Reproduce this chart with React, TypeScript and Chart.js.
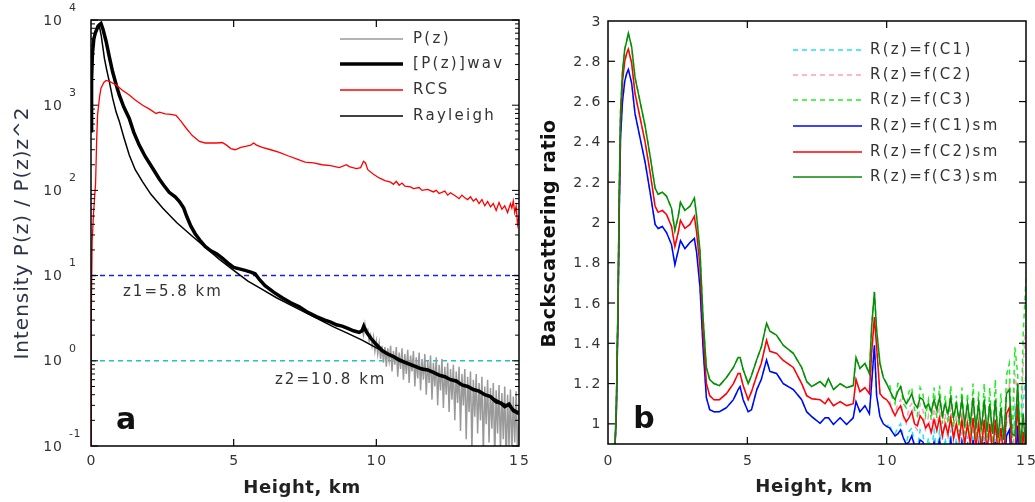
import React, { useEffect, useRef } from "react";
import { Chart, registerables } from "chart.js";
Chart.register(...registerables);

// ---------------- Panel a data (height km, intensity) ----------------
const wavH = [0, 0.02, 0.05, 0.1, 0.15, 0.25, 0.35, 0.42, 0.53, 0.65, 0.76, 0.88, 0.99, 1.15, 1.34, 1.5, 1.69, 1.9, 2.16, 2.4, 2.55, 2.74, 2.95, 3.1, 3.25, 3.35, 3.5, 3.65, 3.82, 4.0, 4.2, 4.4, 4.6, 4.8, 5.0, 5.2, 5.4, 5.6, 5.75, 5.9, 6.1, 6.4, 6.7, 7.0, 7.3, 7.6, 7.9, 8.2, 8.4, 8.6, 8.8, 9.0, 9.2, 9.4, 9.5, 9.56, 9.65, 9.8, 10.0, 10.2, 10.4, 10.6, 10.8, 11.0, 11.2, 11.4, 11.6, 11.8, 12.0, 12.2, 12.4, 12.6, 12.8, 13.0, 13.2, 13.4, 13.6, 13.8, 14.0, 14.2, 14.35, 14.5, 14.65, 14.8, 15.0];
const wavV = [500, 2000, 4000, 6000, 7000, 8500, 9100, 7800, 5600, 3600, 2450, 1750, 1320, 950, 700, 480, 340, 250, 182, 135, 115, 95, 84, 74, 62, 50, 38, 31, 26, 22, 19.5, 18, 16, 14, 12.5, 12, 11.5, 11, 10.5, 9, 7.6, 6.4, 5.5, 4.8, 4.3, 3.7, 3.3, 3.0, 2.85, 2.65, 2.55, 2.4, 2.25, 2.15, 2.25, 2.55, 2.2, 1.85, 1.55, 1.32, 1.2, 1.12, 1.02, 0.96, 0.9, 0.85, 0.8, 0.78, 0.73, 0.68, 0.65, 0.6, 0.58, 0.52, 0.5, 0.46, 0.44, 0.4, 0.38, 0.33, 0.32, 0.29, 0.31, 0.26, 0.24];

const rayH = [0, 0.04, 0.1, 0.18, 0.28, 0.36, 0.47, 0.55, 0.64, 0.76, 0.88, 0.99, 1.15, 1.34, 1.55, 1.81, 2.1, 2.51, 3.0, 3.5, 4.0, 4.5, 5.0, 5.5, 6.0, 6.5, 7.0, 7.5, 8.0, 8.5, 9.0, 9.5, 10.0, 10.5, 11.0, 11.5, 12.0, 12.5, 13.0, 13.5, 14.0, 14.5, 15.0];
const rayV = [500, 3000, 6000, 8000, 8900, 6500, 3550, 2600, 1900, 1200, 830, 650, 420, 260, 175, 126, 90, 62, 42, 30, 21.5, 15.5, 11.5, 8.6, 6.9, 5.5, 4.5, 3.7, 3.05, 2.5, 2.1, 1.75, 1.42, 1.18, 0.98, 0.84, 0.73, 0.62, 0.53, 0.45, 0.38, 0.31, 0.25];

const rcsH = [0, 0.01, 0.04, 0.09, 0.16, 0.2, 0.23, 0.3, 0.35, 0.45, 0.53, 0.65, 0.88, 1.1, 1.34, 1.55, 1.81, 2.05, 2.28, 2.4, 2.6, 2.8, 2.98, 3.15, 3.33, 3.55, 3.8, 4.0, 4.4, 4.6, 4.75, 4.9, 5.05, 5.25, 5.45, 5.6, 5.7, 5.8, 6.0, 6.3, 6.6, 6.9, 7.2, 7.5, 7.8, 8.1, 8.4, 8.7, 8.95, 9.05, 9.3, 9.45, 9.55, 9.62, 9.7, 9.9, 10.1, 10.3, 10.5, 10.6, 10.7, 10.8, 10.9, 11.0, 11.2, 11.3, 11.5, 11.6, 11.8, 12.0, 12.1, 12.2, 12.4, 12.5, 12.6, 12.8, 12.9, 13.0, 13.1, 13.2, 13.3, 13.4, 13.5, 13.6, 13.7, 13.8, 13.9, 14.0, 14.1, 14.2, 14.3, 14.4, 14.5, 14.6, 14.7, 14.75, 14.8, 14.85, 14.9, 14.95, 15.0];
const rcsV = [0.1, 3.5, 25, 55, 120, 400, 770, 1250, 1580, 1850, 1950, 1900, 1730, 1500, 1320, 1150, 1000, 900, 800, 830, 790, 780, 760, 650, 540, 440, 375, 360, 360, 365, 340, 310, 300, 320, 330, 340, 360, 340, 320, 300, 280, 255, 235, 215, 210, 200, 195, 185, 200, 190, 180, 185, 220, 210, 175, 155, 140, 130, 125, 118, 128, 115, 122, 112, 110, 105, 108, 100, 103, 96, 100, 92, 98, 88, 94, 85, 80, 88, 82, 78, 84, 75, 80, 70, 78, 66, 74, 64, 70, 58, 72, 60, 66, 55, 70, 62, 75, 55, 65, 40, 50];

// raw P(z): follows the wavelet curve below 9.5 km, then noisy
const pzTailH = [9.5, 9.55, 9.6, 9.65, 9.7, 9.75, 9.8, 9.85, 9.9, 9.95, 10.0, 10.05, 10.1, 10.15, 10.2, 10.25, 10.3, 10.35, 10.4, 10.45, 10.5, 10.55, 10.6, 10.65, 10.7, 10.75, 10.8, 10.85, 10.9, 10.95, 11.0, 11.05, 11.1, 11.15, 11.2, 11.25, 11.3, 11.35, 11.4, 11.45, 11.5, 11.55, 11.6, 11.65, 11.7, 11.75, 11.8, 11.85, 11.9, 11.95, 12.0, 12.05, 12.1, 12.15, 12.2, 12.25, 12.3, 12.35, 12.4, 12.45, 12.5, 12.55, 12.6, 12.65, 12.7, 12.75, 12.8, 12.85, 12.9, 12.95, 13.0, 13.05, 13.1, 13.15, 13.2, 13.25, 13.3, 13.35, 13.4, 13.45, 13.5, 13.55, 13.6, 13.65, 13.7, 13.75, 13.8, 13.85, 13.9, 13.95, 14.0, 14.05, 14.1, 14.15, 14.2, 14.25, 14.3, 14.35, 14.4, 14.45, 14.5, 14.55, 14.6, 14.65, 14.7, 14.75, 14.8, 14.85, 14.9, 14.95, 15.0];
const pzTailV = [2.4, 2.0, 2.7, 2.1, 2.3, 1.7, 2.0, 1.5, 1.9, 1.3, 1.7, 1.2, 1.6, 1.05, 1.5, 0.95, 1.45, 0.85, 1.4, 1.0, 1.5, 0.75, 1.3, 0.9, 1.45, 0.65, 1.25, 0.8, 1.4, 0.6, 1.2, 0.7, 1.35, 0.55, 1.15, 0.75, 1.3, 0.5, 1.1, 0.62, 1.25, 0.45, 1.05, 0.6, 1.2, 0.4, 1.0, 0.55, 1.15, 0.35, 0.95, 0.5, 1.1, 0.3, 0.9, 0.45, 1.05, 0.28, 0.85, 0.4, 0.95, 0.25, 0.8, 0.35, 0.9, 0.2, 0.75, 0.32, 0.85, 0.15, 0.7, 0.3, 0.8, 0.12, 0.65, 0.25, 0.75, 0.09, 0.6, 0.22, 0.7, 0.14, 0.55, 0.2, 0.65, 0.08, 0.5, 0.18, 0.6, 0.11, 0.48, 0.16, 0.55, 0.07, 0.45, 0.14, 0.52, 0.09, 0.42, 0.12, 0.5, 0.06, 0.4, 0.1, 0.46, 0.08, 0.38, 0.11, 0.44, 0.07, 0.3];

const levelZ1 = 10;
const levelZ2 = 1;
const labelZ1 = "z1=5.8 km";
const labelZ2 = "z2=10.8 km";
const legendA = ["P(z)", "[P(z)]wav", "RCS", "Rayleigh"];
const decades = [-1, 0, 1, 2, 3, 4];
const xTicks = [0, 5, 10, 15];

// ---------------- Panel b data (height km, backscattering ratio) ----------------
const bH = [0.2, 0.25, 0.3, 0.36, 0.4, 0.45, 0.52, 0.6, 0.67, 0.73, 0.8, 0.85, 0.97, 1.15, 1.33, 1.51, 1.69, 1.8, 1.95, 2.1, 2.28, 2.4, 2.52, 2.6, 2.76, 2.94, 3.1, 3.18, 3.3, 3.41, 3.53, 3.65, 3.8, 4.0, 4.25, 4.5, 4.67, 4.74, 4.85, 5.03, 5.15, 5.34, 5.5, 5.69, 5.81, 6.05, 6.29, 6.65, 6.95, 7.13, 7.31, 7.61, 7.79, 7.91, 8.09, 8.33, 8.56, 8.8, 8.9, 9.04, 9.22, 9.38, 9.46, 9.56, 9.64, 9.76, 9.88, 10.0];
const c3Sm = [0.8, 0.88, 1.1, 1.62, 2.12, 2.55, 2.75, 2.86, 2.9, 2.94, 2.9, 2.87, 2.72, 2.6, 2.48, 2.33, 2.17, 2.14, 2.15, 2.13, 2.07, 1.96, 2.03, 2.1, 2.06, 2.08, 2.12, 2.03, 1.86, 1.53, 1.28, 1.22, 1.2, 1.19, 1.23, 1.28, 1.33, 1.33, 1.27, 1.2, 1.24, 1.32, 1.38, 1.5, 1.46, 1.44, 1.39, 1.35, 1.28, 1.21, 1.185, 1.21, 1.185, 1.225, 1.17, 1.2, 1.18, 1.19, 1.33, 1.275, 1.3, 1.25, 1.48, 1.655, 1.465, 1.3, 1.23, 1.2];
const c2Sm = [0.8, 0.88, 1.08, 1.58, 2.08, 2.5, 2.7, 2.8, 2.84, 2.86, 2.82, 2.79, 2.64, 2.52, 2.4, 2.25, 2.08, 2.05, 2.06, 2.04, 1.98, 1.88, 1.95, 2.01, 1.97, 1.99, 2.03, 1.95, 1.78, 1.46, 1.2, 1.14, 1.12, 1.12, 1.15, 1.2, 1.25, 1.25, 1.19, 1.12, 1.16, 1.24, 1.3, 1.415, 1.36, 1.35, 1.315, 1.28, 1.2, 1.14, 1.125, 1.12, 1.1, 1.125, 1.09, 1.11, 1.09, 1.1, 1.22, 1.16, 1.18, 1.15, 1.35, 1.53, 1.38, 1.15, 1.13, 1.12];
const c1Sm = [0.8, 0.88, 1.05, 1.55, 2.02, 2.42, 2.6, 2.7, 2.74, 2.76, 2.72, 2.69, 2.54, 2.42, 2.3, 2.15, 1.99, 1.97, 1.98, 1.95, 1.89, 1.79, 1.86, 1.91, 1.87, 1.9, 1.92, 1.85, 1.68, 1.38, 1.13, 1.07, 1.06, 1.06, 1.08, 1.12, 1.17, 1.185, 1.12, 1.06, 1.07, 1.17, 1.22, 1.317, 1.26, 1.25, 1.2, 1.17, 1.12, 1.06, 1.036, 1.003, 1.03, 1.03, 0.997, 1.03, 0.997, 1.03, 1.11, 1.06, 1.09, 1.05, 1.2, 1.39, 1.14, 1.036, 1.0, 0.987];

const bTailH = [10.1, 10.2, 10.3, 10.4, 10.5, 10.6, 10.7, 10.8, 10.9, 11.0, 11.1, 11.2, 11.3, 11.4, 11.5, 11.6, 11.7, 11.8, 11.9, 12.0, 12.1, 12.2, 12.3, 12.4, 12.5, 12.6, 12.7, 12.8, 12.9, 13.0, 13.1, 13.2, 13.3, 13.4, 13.5, 13.6, 13.7, 13.8, 13.9, 14.0, 14.1, 14.2, 14.3, 14.4, 14.5, 14.6, 14.7, 14.8, 14.9, 15.0];
const c3SmTail = [1.17, 1.14, 1.12, 1.16, 1.185, 1.13, 1.1, 1.12, 1.15, 1.1, 1.08, 1.13, 1.12, 1.08, 1.1, 1.06, 1.12, 1.07, 1.13, 1.04, 1.1, 1.05, 1.13, 1.03, 1.1, 1.02, 1.12, 1.0, 1.1, 1.0, 1.13, 0.98, 1.1, 0.97, 1.12, 0.96, 1.1, 0.95, 1.12, 0.93, 1.08, 0.92, 1.15, 1.17, 0.95, 0.94, 1.2, 0.88, 1.05, 0.85];
const c2SmTail = [1.1, 1.07, 1.04, 1.07, 1.09, 1.04, 1.01, 1.03, 1.06, 1.0, 0.99, 1.04, 1.02, 0.98, 1.0, 0.96, 1.02, 0.97, 1.03, 0.94, 1.0, 0.95, 1.03, 0.93, 1.0, 0.92, 1.02, 0.9, 1.0, 0.9, 1.03, 0.88, 1.0, 0.87, 1.02, 0.86, 1.0, 0.85, 1.02, 0.84, 0.98, 0.83, 1.05, 1.08, 0.86, 0.85, 1.1, 0.8, 0.96, 0.78];
const c1SmTail = [0.98, 0.96, 0.94, 0.95, 0.97, 0.93, 0.9, 0.91, 0.94, 0.89, 0.87, 0.92, 0.91, 0.87, 0.89, 0.85, 0.91, 0.86, 0.92, 0.83, 0.89, 0.84, 0.92, 0.82, 0.89, 0.81, 0.91, 0.8, 0.89, 0.79, 0.92, 0.77, 0.89, 0.76, 0.91, 0.75, 0.89, 0.74, 0.91, 0.73, 0.87, 0.72, 0.94, 0.97, 0.75, 0.74, 0.99, 0.7, 0.85, 0.68];
const c3RawTail = [1.2, 1.13, 1.1, 1.2, 1.2, 1.1, 1.08, 1.16, 1.18, 1.07, 1.04, 1.18, 1.15, 1.04, 1.12, 1.02, 1.18, 1.03, 1.19, 1.0, 1.14, 1.0, 1.19, 0.98, 1.14, 0.96, 1.18, 0.95, 1.15, 0.94, 1.2, 0.92, 1.16, 0.9, 1.2, 0.9, 1.18, 0.88, 1.22, 0.86, 1.15, 0.85, 1.24, 1.3, 0.9, 1.38, 1.25, 0.85, 1.45, 1.72];
const c2RawTail = [1.12, 1.06, 1.05, 1.1, 1.12, 1.03, 1.0, 1.08, 1.1, 0.99, 0.97, 1.1, 1.07, 0.96, 1.04, 0.94, 1.1, 0.95, 1.1, 0.92, 1.05, 0.92, 1.1, 0.9, 1.05, 0.88, 1.09, 0.87, 1.06, 0.86, 1.1, 0.85, 1.06, 0.84, 1.1, 0.83, 1.08, 0.82, 1.12, 0.8, 1.05, 0.8, 1.14, 1.2, 0.82, 1.25, 1.15, 0.78, 1.3, 1.5];
const c1RawTail = [1.0, 0.96, 0.95, 0.98, 1.0, 0.93, 0.9, 0.96, 0.98, 0.89, 0.87, 0.97, 0.95, 0.86, 0.93, 0.85, 0.97, 0.85, 0.97, 0.83, 0.93, 0.83, 0.97, 0.81, 0.93, 0.8, 0.96, 0.79, 0.94, 0.78, 0.97, 0.77, 0.94, 0.76, 0.97, 0.75, 0.95, 0.74, 0.98, 0.72, 0.93, 0.72, 1.0, 1.05, 0.74, 1.08, 1.02, 0.7, 1.1, 1.25];

const legendB = ["R(z)=f(C1)", "R(z)=f(C2)", "R(z)=f(C3)", "R(z)=f(C1)sm", "R(z)=f(C2)sm", "R(z)=f(C3)sm"];
const bYTicks = [1, 1.2, 1.4, 1.6, 1.8, 2, 2.2, 2.4, 2.6, 2.8, 3];
const bYTickLabels = ["1", "1.2", "1.4", "1.6", "1.8", "2", "2.2", "2.4", "2.6", "2.8", "3"];

// ---------------- helpers ----------------
const FONT = "'DejaVu Sans', Verdana, sans-serif";

function pts(h: number[], v: number[]) {
  return h.map((x, i) => ({ x, y: v[i] }));
}

function text(ctx: any, s: string, x: number, y: number, font: string, align: string, color: string, spacing = 0) {
  ctx.save();
  ctx.font = font;
  ctx.fillStyle = color;
  ctx.textAlign = align;
  ctx.textBaseline = "middle";
  ctx.letterSpacing = spacing + "px";
  ctx.fillText(s, x, y);
  ctx.restore();
}

function rotText(ctx: any, s: string, x: number, y: number, font: string, color: string, spacing = 0) {
  ctx.save();
  ctx.translate(x, y);
  ctx.rotate(-Math.PI / 2);
  ctx.font = font;
  ctx.fillStyle = color;
  ctx.textAlign = "center";
  ctx.textBaseline = "middle";
  ctx.letterSpacing = spacing + "px";
  ctx.fillText(s, 0, 0);
  ctx.restore();
}

function line(ctx: any, x1: number, y1: number, x2: number, y2: number, w = 1.2, c = "#000") {
  ctx.beginPath();
  ctx.lineWidth = w;
  ctx.strokeStyle = c;
  ctx.moveTo(x1, y1);
  ctx.lineTo(x2, y2);
  ctx.stroke();
}

function drawLegend(chart: any, names: string[], x1: number, x2: number, tx: number, rows: number[]) {
  const ctx = chart.ctx;
  names.forEach((name, i) => {
    const ds = chart.data.datasets[i];
    ctx.save();
    ctx.setLineDash(ds.borderDash || []);
    line(ctx, x1, rows[i], x2, rows[i], ds.borderWidth, ds.borderColor);
    ctx.restore();
    text(ctx, name, tx, rows[i], `15px ${FONT}`, "left", "#333", 2.3);
  });
}

const panelAPlugin = {
  id: "panelA",
  afterDraw(chart: any) {
    const { ctx, chartArea: ca, scales } = chart;
    const xs = scales.x, ys = scales.y;
    ctx.save();
    ctx.lineWidth = 1.5;
    ctx.strokeStyle = "#000";
    ctx.strokeRect(ca.left, ca.top, ca.right - ca.left, ca.bottom - ca.top);
    decades.forEach((d) => {
      for (let m = 1; m <= 9; m++) {
        const v = m * Math.pow(10, d);
        if (v > 10000 + 1e-6) continue;
        const y = ys.getPixelForValue(v);
        const len = m === 1 ? 7 : 4;
        line(ctx, ca.left, y, ca.left + len, y, 1);
        line(ctx, ca.right - len, y, ca.right, y, 1);
      }
      const y = ys.getPixelForValue(Math.pow(10, d));
      text(ctx, "10", 63, y + 1, `14px ${FONT}`, "right", "#333", 1);
      text(ctx, String(d), 69, y - 12, `11px ${FONT}`, "left", "#333", 0.5);
    });
    xTicks.forEach((t) => {
      const x = xs.getPixelForValue(t);
      if (t > 0 && t < 15) {
        line(ctx, x, ca.bottom, x, ca.bottom - 7, 1.2);
        line(ctx, x, ca.top, x, ca.top + 7, 1.2);
      }
      text(ctx, String(t), x + 1, 461, `14px ${FONT}`, "center", "#333", 2);
    });
    text(ctx, "Height, km", (ca.left + ca.right) / 2 - 3, 488, `bold 18px ${FONT}`, "center", "#222", 0.6);
    rotText(ctx, "Intensity P(z) / P(z)z^2", 23, (ca.top + ca.bottom) / 2, `20px ${FONT}`, "#2e3448", 1);
    text(ctx, labelZ1, 123, 292, `15px ${FONT}`, "left", "#333", 2);
    text(ctx, labelZ2, 275, 380, `15px ${FONT}`, "left", "#333", 2);
    text(ctx, "a", 126, 421, `bold 30px ${FONT}`, "center", "#111");
    drawLegend(chart, legendA, 340, 403, 413, [39, 64, 90, 116]);
    ctx.restore();
  },
};

const panelBPlugin = {
  id: "panelB",
  afterDraw(chart: any) {
    const { ctx, chartArea: ca, scales } = chart;
    const xs = scales.x, ys = scales.y;
    ctx.save();
    ctx.lineWidth = 1.5;
    ctx.strokeStyle = "#000";
    ctx.strokeRect(ca.left, ca.top, ca.right - ca.left, ca.bottom - ca.top);
    bYTicks.forEach((t, i) => {
      const y = ys.getPixelForValue(t);
      if (t < 3) {
        line(ctx, ca.left, y, ca.left + 7, y, 1.2);
        line(ctx, ca.right - 7, y, ca.right, y, 1.2);
      }
      text(ctx, bYTickLabels[i], 83, y + 1, `14px ${FONT}`, "right", "#333", 2.5);
    });
    xTicks.forEach((t) => {
      const x = xs.getPixelForValue(t);
      if (t > 0 && t < 15) {
        line(ctx, x, ca.bottom, x, ca.bottom - 7, 1.2);
        line(ctx, x, ca.top, x, ca.top + 7, 1.2);
      }
      text(ctx, String(t), x + 1, 461, `14px ${FONT}`, "center", "#333", 2);
    });
    text(ctx, "Height, km", (ca.left + ca.right) / 2 - 3, 487, `bold 18px ${FONT}`, "center", "#222", 0.6);
    rotText(ctx, "Backscattering ratio", 30, (ca.top + ca.bottom) / 2 + 1, `bold 19px ${FONT}`, "#111", 0.5);
    text(ctx, "b", 124, 420, `bold 30px ${FONT}`, "center", "#111");
    drawLegend(chart, legendB, 273, 342, 350, [50, 75, 100, 126, 152, 177]);
    ctx.restore();
  },
};

const lineDefaults = { pointRadius: 0, fill: false, tension: 0, clip: 0 } as any;

export default function App() {
  const refA = useRef<HTMLCanvasElement>(null);
  const refB = useRef<HTMLCanvasElement>(null);

  useEffect(() => {
    const pzH = [...wavH.filter((h) => h < 9.5), ...pzTailH];
    const pzV = [...wavV.filter((_, i) => wavH[i] < 9.5), ...pzTailV];

    const chartA = new Chart(refA.current as HTMLCanvasElement, {
      type: "line",
      data: {
        datasets: [
          { ...lineDefaults, label: legendA[0], data: pts(pzH, pzV), borderColor: "#9a9a9a", borderWidth: 1.5, order: 5 },
          { ...lineDefaults, label: legendA[1], data: pts(wavH, wavV), borderColor: "#000000", borderWidth: 3.5, order: 2 },
          { ...lineDefaults, label: legendA[2], data: pts(rcsH, rcsV), borderColor: "#ff0000", borderWidth: 1.3, order: 1 },
          { ...lineDefaults, label: legendA[3], data: pts(rayH, rayV), borderColor: "#000000", borderWidth: 1.5, order: 3 },
          { ...lineDefaults, label: "z1", data: [{ x: 0, y: levelZ1 }, { x: 15, y: levelZ1 }], borderColor: "#2020e0", borderWidth: 1.5, borderDash: [5, 4], order: 6 },
          { ...lineDefaults, label: "z2", data: [{ x: 0, y: levelZ2 }, { x: 15, y: levelZ2 }], borderColor: "#20c4c4", borderWidth: 1.5, borderDash: [5, 4], order: 6 },
        ],
      },
      options: {
        responsive: false,
        animation: false,
        layout: { padding: { left: 91, right: 21, top: 20, bottom: 56 } },
        plugins: { legend: { display: false }, tooltip: { enabled: false } },
        scales: {
          x: { type: "linear", min: 0, max: 15, display: false },
          y: { type: "logarithmic", min: 0.1, max: 10000, display: false },
        },
      },
      plugins: [panelAPlugin],
    } as any);

    const c1Raw = [...c1Sm, ...c1RawTail];
    const c2Raw = [...c2Sm, ...c2RawTail];
    const c3Raw = [...c3Sm, ...c3RawTail];
    const allH = [...bH, ...bTailH];
    const dash = [5, 4];

    const chartB = new Chart(refB.current as HTMLCanvasElement, {
      type: "line",
      data: {
        datasets: [
          { ...lineDefaults, label: legendB[0], data: pts(allH, c1Raw), borderColor: "#20e4f4", borderWidth: 1.5, borderDash: dash, order: 6 },
          { ...lineDefaults, label: legendB[1], data: pts(allH, c2Raw), borderColor: "#ff9cc8", borderWidth: 1.5, borderDash: dash, order: 5 },
          { ...lineDefaults, label: legendB[2], data: pts(allH, c3Raw), borderColor: "#22ee22", borderWidth: 1.5, borderDash: dash, order: 4 },
          { ...lineDefaults, label: legendB[3], data: pts(allH, [...c1Sm, ...c1SmTail]), borderColor: "#0000ff", borderWidth: 1.5, order: 3 },
          { ...lineDefaults, label: legendB[4], data: pts(allH, [...c2Sm, ...c2SmTail]), borderColor: "#ff0000", borderWidth: 1.5, order: 2 },
          { ...lineDefaults, label: legendB[5], data: pts(allH, [...c3Sm, ...c3SmTail]), borderColor: "#0a8a0a", borderWidth: 1.5, order: 1 },
        ],
      },
      options: {
        responsive: false,
        animation: false,
        layout: { padding: { left: 88, right: 9, top: 21, bottom: 58 } },
        plugins: { legend: { display: false }, tooltip: { enabled: false } },
        scales: {
          x: { type: "linear", min: 0, max: 15, display: false },
          y: { type: "linear", min: 0.9, max: 3, display: false },
        },
      },
      plugins: [panelBPlugin],
    } as any);

    return () => {
      chartA.destroy();
      chartB.destroy();
    };
  }, []);

  return (
    <div style={{ position: "absolute", left: 0, top: 0, width: 1035, height: 502, background: "#fff", overflow: "hidden" }}>
      <canvas ref={refA} width={540} height={502} style={{ position: "absolute", left: 0, top: 0, width: 540, height: 502 }} />
      <canvas ref={refB} width={515} height={502} style={{ position: "absolute", left: 520, top: 0, width: 515, height: 502 }} />
    </div>
  );
}
